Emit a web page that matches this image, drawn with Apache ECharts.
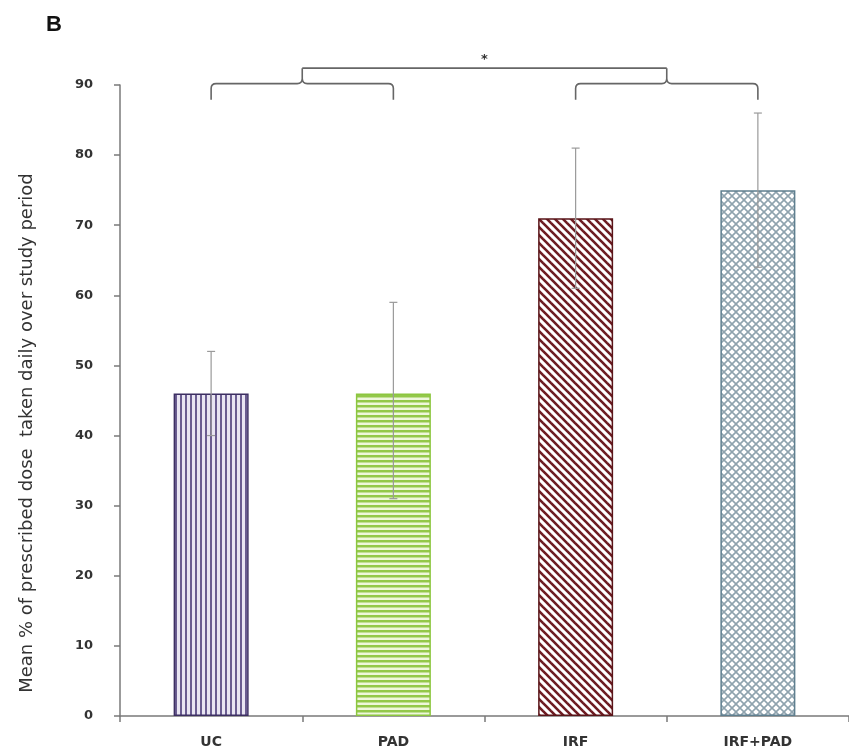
<!DOCTYPE html>
<html>
<head>
<meta charset="utf-8">
<script src="https://cdn.jsdelivr.net/npm/echarts@6/dist/echarts.min.js"></script>
<style>
  html, body { margin: 0; padding: 0; background: #ffffff; }
  #chart { width: 849px; height: 753px; }
</style>
</head>
<body>
<div id="chart"></div>
<script>
// Group names and adherence summary values
const categories = ['UC', 'PAD', 'IRF', 'IRF+PAD'];
const meanValues = [46, 46, 71, 75];
const errorLow = [40, 31, 61, 64];
const errorHigh = [52, 59, 81, 86];

// Significance brackets: [first group, second group, bar level, tip level]
const brackets = [[0, 1, 90.2, 87.9], [2, 3, 90.2, 87.9]];
const connectorLevel = 92.4;
const starLevel = 94.2;

// --- hatch fills ---------------------------------------------------------
function makeCanvas(w, h, draw) {
  const c = document.createElement('canvas');
  c.width = w; c.height = h;
  const ctx = c.getContext('2d');
  ctx.fillStyle = '#ffffff';
  ctx.fillRect(0, 0, w, h);
  draw(ctx, w, h);
  return c;
}
const vertStripes = makeCanvas(5, 10, (ctx, w, h) => {
  ctx.fillStyle = '#e9e5f2';
  ctx.fillRect(0, 0, w, h);
  ctx.fillStyle = '#6a5c90';
  ctx.fillRect(0, 0, 2, h);
});
const horizStripes = makeCanvas(10, 5, (ctx, w, h) => {
  ctx.fillStyle = '#eef7dc';
  ctx.fillRect(0, 0, w, h);
  ctx.fillStyle = '#93c84a';
  ctx.fillRect(0, 0, w, 2.5);
});
const diagStripes = makeCanvas(8, 8, (ctx, w, h) => {
  ctx.strokeStyle = '#6e1c22';
  ctx.lineWidth = 2.6;
  for (let x0 = -8; x0 <= 8; x0 += 8) {
    ctx.beginPath();
    ctx.moveTo(x0 - 1, -1);
    ctx.lineTo(x0 + 9, 9);
    ctx.stroke();
  }
});
const crossHatch = makeCanvas(8, 8, (ctx, w, h) => {
  ctx.strokeStyle = '#8fa3ae';
  ctx.lineWidth = 1.6;
  for (let x0 = -8; x0 <= 8; x0 += 8) {
    ctx.beginPath();
    ctx.moveTo(x0 - 1, -1); ctx.lineTo(x0 + 9, 9);
    ctx.moveTo(x0 + 9, -1); ctx.lineTo(x0 - 1, 9);
    ctx.stroke();
  }
});

const barStyles = [
  { color: { image: vertStripes, repeat: 'repeat' }, borderColor: '#3d2f62' },
  { color: { image: horizStripes, repeat: 'repeat' }, borderColor: '#8cc63f' },
  { color: { image: diagStripes, repeat: 'repeat' }, borderColor: '#5a1519' },
  { color: { image: crossHatch, repeat: 'repeat' }, borderColor: '#5f7f8f' }
];

const chart = echarts.init(document.getElementById('chart'), null, { renderer: 'canvas' });

const labelFont = 'DejaVu Sans, Verdana, sans-serif';

const option = {
  backgroundColor: '#ffffff',
  animation: false,
  title: {
    text: 'B',
    left: 41, top: 9,
    textStyle: { fontSize: 22, fontWeight: 'bold', color: '#111', fontFamily: 'Liberation Sans, Arial, sans-serif' }
  },
  grid: { left: 120, right: -5, top: 85, bottom: 37 },
  xAxis: {
    type: 'category',
    data: categories,
    axisLine: { lineStyle: { color: '#7a7a7a', width: 1.5 } },
    axisTick: { show: true, length: 6, lineStyle: { color: '#7a7a7a', width: 1.5 } },
    axisLabel: { margin: 19, fontSize: 14, fontWeight: 'bold', color: '#333', fontFamily: labelFont }
  },
  yAxis: {
    type: 'value',
    min: 0, max: 90, interval: 10,
    splitLine: { show: false },
    axisLine: { show: true, lineStyle: { color: '#7a7a7a', width: 1.5 } },
    axisTick: { show: true, length: 6, lineStyle: { color: '#7a7a7a', width: 1.5 } },
    axisLabel: { margin: 27, fontSize: 13, fontWeight: 'bold', color: '#333', fontFamily: labelFont }
  },
  graphic: [{
    type: 'text',
    x: 27, y: 433,
    rotation: Math.PI / 2,
    style: {
      text: 'Mean % of prescribed dose  taken daily over study period',
      fontSize: 18,
      fontFamily: labelFont,
      fill: '#333',
      align: 'center',
      verticalAlign: 'middle'
    }
  }],
  series: [
    {
      type: 'bar',
      barWidth: 75,
      data: meanValues.map((v, i) => ({
        value: v,
        itemStyle: Object.assign({ borderWidth: 1.5 }, barStyles[i])
      })),
      z: 2
    },
    {
      // error bars, low to high with small caps
      type: 'custom',
      z: 3,
      data: categories.map((c, i) => [i, errorLow[i], errorHigh[i]]),
      renderItem: function (params, api) {
        const lo = api.coord([api.value(0), api.value(1)]);
        const hi = api.coord([api.value(0), api.value(2)]);
        const cap = 4;
        const style = { stroke: '#9a9a9a', lineWidth: 1.2, fill: null };
        return {
          type: 'group',
          children: [
            { type: 'line', shape: { x1: hi[0], y1: hi[1], x2: lo[0], y2: lo[1] }, style },
            { type: 'line', shape: { x1: hi[0] - cap, y1: hi[1], x2: hi[0] + cap, y2: hi[1] }, style },
            { type: 'line', shape: { x1: lo[0] - cap, y1: lo[1], x2: lo[0] + cap, y2: lo[1] }, style }
          ]
        };
      }
    },
    {
      // significance brackets and the connector between them
      type: 'custom',
      z: 4,
      clip: false,
      data: [0],
      renderItem: function (params, api) {
        const children = [];
        const style = { stroke: '#666', lineWidth: 1.6, fill: null };
        const mids = [];
        const topY = api.coord([0, connectorLevel])[1];
        brackets.forEach(b => {
          const a = api.coord([b[0], b[2]]);
          const c = api.coord([b[1], b[2]]);
          const tipY = api.coord([b[0], b[3]])[1];
          const y = a[1];
          const m = (a[0] + c[0]) / 2;
          const r = 5;
          mids.push(m);
          const path =
            'M' + a[0] + ' ' + tipY +
            ' L' + a[0] + ' ' + (y + r) +
            ' Q' + a[0] + ' ' + y + ' ' + (a[0] + r) + ' ' + y +
            ' L' + (m - r) + ' ' + y +
            ' Q' + m + ' ' + y + ' ' + m + ' ' + (y - r) +
            ' L' + m + ' ' + topY +
            ' M' + m + ' ' + (y - r) +
            ' Q' + m + ' ' + y + ' ' + (m + r) + ' ' + y +
            ' L' + (c[0] - r) + ' ' + y +
            ' Q' + c[0] + ' ' + y + ' ' + c[0] + ' ' + (y + r) +
            ' L' + c[0] + ' ' + tipY;
          children.push({ type: 'path', shape: { pathData: path }, style });
        });
        children.push({
          type: 'line',
          shape: { x1: mids[0], y1: topY, x2: mids[1], y2: topY },
          style
        });
        const starY = api.coord([0, starLevel])[1];
        children.push({
          type: 'text',
          style: {
            text: '*', x: (mids[0] + mids[1]) / 2, y: starY + 4,
            fontSize: 13, fontWeight: 'bold', fill: '#333', fontFamily: labelFont,
            align: 'center', verticalAlign: 'middle'
          }
        });
        return { type: 'group', children };
      }
    }
  ]
};

chart.setOption(option);
</script>
</body>
</html>
